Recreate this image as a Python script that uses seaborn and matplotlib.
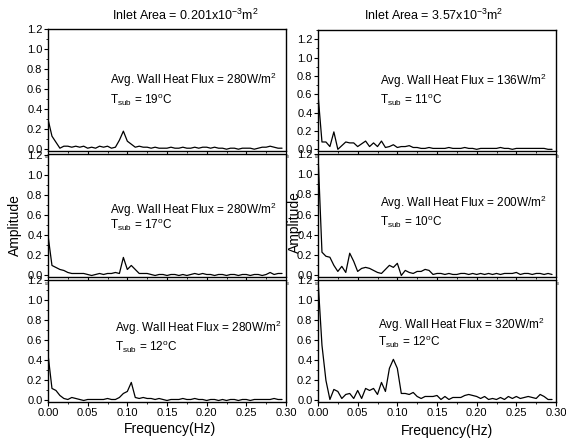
import matplotlib
matplotlib.use("Agg")
import matplotlib.pyplot as plt
import seaborn as sns
import pandas as pd
from matplotlib.ticker import MultipleLocator

# ---------------- data ----------------
freq = [0.000, 0.005, 0.010, 0.015, 0.020, 0.025, 0.030, 0.035, 0.040, 0.045,
        0.050, 0.055, 0.060, 0.065, 0.070, 0.075, 0.080, 0.085, 0.090, 0.095,
        0.100, 0.105, 0.110, 0.115, 0.120, 0.125, 0.130, 0.135, 0.140, 0.145,
        0.150, 0.155, 0.160, 0.165, 0.170, 0.175, 0.180, 0.185, 0.190, 0.195,
        0.200, 0.205, 0.210, 0.215, 0.220, 0.225, 0.230, 0.235, 0.240, 0.245,
        0.250, 0.255, 0.260, 0.265, 0.270, 0.275, 0.280, 0.285, 0.290, 0.295]

amp_280_19 = [0.30, 0.13, 0.07, 0.01, 0.03, 0.03, 0.02, 0.03, 0.02, 0.03,
              0.01, 0.02, 0.01, 0.03, 0.02, 0.03, 0.01, 0.02, 0.09, 0.18,
              0.08, 0.05, 0.02, 0.03, 0.02, 0.02, 0.01, 0.02, 0.01, 0.01,
              0.01, 0.02, 0.01, 0.01, 0.02, 0.01, 0.01, 0.02, 0.01, 0.02,
              0.02, 0.01, 0.02, 0.01, 0.01, 0.00, 0.01, 0.01, 0.00, 0.01,
              0.01, 0.01, 0.00, 0.01, 0.02, 0.02, 0.03, 0.02, 0.01, 0.01]

amp_280_17 = [0.40, 0.10, 0.08, 0.06, 0.05, 0.03, 0.02, 0.02, 0.02, 0.02,
              0.01, 0.00, 0.01, 0.02, 0.01, 0.02, 0.02, 0.03, 0.02, 0.18,
              0.06, 0.10, 0.06, 0.02, 0.02, 0.02, 0.01, 0.00, 0.01, 0.01,
              0.00, 0.01, 0.01, 0.00, 0.01, 0.00, 0.01, 0.02, 0.01, 0.02,
              0.01, 0.01, 0.00, 0.01, 0.01, 0.00, 0.01, 0.01, 0.00, 0.01,
              0.01, 0.00, 0.01, 0.01, 0.00, 0.01, 0.03, 0.01, 0.02, 0.02]

amp_280_12 = [0.46, 0.12, 0.10, 0.05, 0.02, 0.01, 0.03, 0.02, 0.01, 0.00,
              0.01, 0.01, 0.01, 0.01, 0.01, 0.02, 0.01, 0.01, 0.03, 0.07,
              0.09, 0.18, 0.03, 0.02, 0.03, 0.02, 0.02, 0.01, 0.02, 0.01,
              0.00, 0.01, 0.01, 0.01, 0.02, 0.01, 0.01, 0.02, 0.01, 0.01,
              0.00, 0.01, 0.01, 0.00, 0.01, 0.00, 0.01, 0.01, 0.00, 0.01,
              0.01, 0.00, 0.01, 0.01, 0.01, 0.01, 0.01, 0.02, 0.01, 0.01]

amp_136_11 = [0.60, 0.08, 0.08, 0.03, 0.19, 0.00, 0.04, 0.08, 0.07, 0.07,
              0.03, 0.06, 0.09, 0.03, 0.07, 0.03, 0.09, 0.02, 0.03, 0.05,
              0.02, 0.03, 0.03, 0.04, 0.02, 0.02, 0.01, 0.01, 0.02, 0.01,
              0.01, 0.01, 0.01, 0.02, 0.01, 0.01, 0.01, 0.02, 0.01, 0.01,
              0.00, 0.01, 0.01, 0.01, 0.01, 0.01, 0.02, 0.01, 0.01, 0.00,
              0.01, 0.01, 0.01, 0.01, 0.01, 0.01, 0.01, 0.01, 0.00, 0.00]

amp_200_10 = [1.20, 0.23, 0.19, 0.18, 0.10, 0.04, 0.09, 0.03, 0.22, 0.14,
              0.04, 0.07, 0.08, 0.07, 0.05, 0.03, 0.02, 0.06, 0.10, 0.08,
              0.12, 0.00, 0.05, 0.03, 0.02, 0.04, 0.04, 0.06, 0.05, 0.01,
              0.02, 0.02, 0.01, 0.02, 0.01, 0.01, 0.02, 0.02, 0.01, 0.02,
              0.01, 0.02, 0.01, 0.02, 0.01, 0.02, 0.01, 0.02, 0.02, 0.02,
              0.03, 0.01, 0.02, 0.02, 0.01, 0.02, 0.02, 0.01, 0.02, 0.01]

amp_320_12 = [1.20, 0.55, 0.20, 0.01, 0.11, 0.09, 0.02, 0.06, 0.07, 0.02,
              0.10, 0.02, 0.12, 0.10, 0.12, 0.06, 0.18, 0.09, 0.32, 0.41,
              0.32, 0.07, 0.07, 0.06, 0.08, 0.04, 0.02, 0.04, 0.04, 0.04,
              0.05, 0.01, 0.04, 0.01, 0.03, 0.03, 0.03, 0.05, 0.06, 0.05,
              0.04, 0.02, 0.04, 0.01, 0.02, 0.01, 0.03, 0.01, 0.04, 0.02,
              0.04, 0.02, 0.03, 0.04, 0.03, 0.02, 0.06, 0.04, 0.01, 0.01]

col_titles = ["Inlet Area = 0.201x10$^{-3}$m$^2$", "Inlet Area = 3.57x10$^{-3}$m$^2$"]
flux_labels = [["280", "280", "280"], ["136", "200", "320"]]
tsub_labels = [["19", "17", "12"], ["11", "10", "12"]]
series = [[amp_280_19, amp_280_17, amp_280_12], [amp_136_11, amp_200_10, amp_320_12]]
x_ticks = [0.00, 0.05, 0.10, 0.15, 0.20, 0.25, 0.30]
y_ticks = [0.0, 0.2, 0.4, 0.6, 0.8, 1.0, 1.2]

# ---------------- style ----------------
sns.set_theme(style="ticks")
plt.rcParams["font.family"] = ["Liberation Sans", "DejaVu Sans"]
plt.rcParams["mathtext.fontset"] = "custom"
plt.rcParams["mathtext.rm"] = "Liberation Sans"
plt.rcParams["mathtext.it"] = "Liberation Sans:italic"
plt.rcParams["mathtext.bf"] = "Liberation Sans:bold"
for key in ["text.color", "axes.labelcolor", "xtick.color", "ytick.color", "axes.edgecolor"]:
    plt.rcParams[key] = "black"

W, H = 566, 441
fig = plt.figure(figsize=(W / 100, H / 100), dpi=100)
fig.patch.set_facecolor("white")

# pixel boxes (x0, x1, y_top, y_bottom)
col_x = [(48, 286), (318, 556)]
row_y = [[(29, 150.7), (154, 277), (280, 402)],
         [(30, 150.7), (154, 277), (280, 402)]]
ytop = [[1.2, 1.21, 1.2], [1.3, 1.2, 1.2]]
text_pos = [[(0.26, 0.58, 0.417), (0.26, 0.545, 0.42), (0.28, 0.61, 0.45)],
            [(0.26, 0.58, 0.417), (0.26, 0.60, 0.45), (0.25, 0.63, 0.49)]]

for c in range(2):
    for r in range(3):
        x0, x1 = col_x[c]
        yt, yb = row_y[c][r]
        ax = fig.add_axes([x0 / W, 1 - yb / H, (x1 - x0) / W, (yb - yt) / H])
        df = pd.DataFrame({"Frequency": freq, "Amplitude": series[c][r]})
        sns.lineplot(data=df, x="Frequency", y="Amplitude", ax=ax,
                     color="black", linewidth=0.9)
        ax.set_xlim(0, 0.30)
        ax.set_ylim(-0.015, ytop[c][r])
        ax.set_xticks(x_ticks)
        ax.set_yticks(y_ticks)
        ax.xaxis.set_minor_locator(MultipleLocator(0.025))
        ax.yaxis.set_minor_locator(MultipleLocator(0.1))
        ax.set_yticklabels([f"{v:.1f}" for v in y_ticks])
        ax.tick_params(axis="y", which="major", labelsize=8, length=3, width=0.8, pad=1)
        ax.tick_params(axis="y", which="minor", length=1.5, width=0.6)
        ax.tick_params(axis="x", which="minor", length=1.5, width=0.6)
        ax.set_xticklabels([f"{v:.2f}" for v in x_ticks])
        if r == 2:
            ax.tick_params(axis="x", which="major", labelsize=8, length=3, width=0.8, pad=1.5)
        else:
            ax.tick_params(axis="x", which="major", labelsize=2.5, length=3, width=0.8, pad=0.3)
        for s in ax.spines.values():
            s.set_visible(True)
            s.set_linewidth(1.0)
            s.set_color("black")
        ax.set_xlabel("")
        ax.set_ylabel("")
        ax.set_facecolor("white")
        tx, ty1, ty2 = text_pos[c][r]
        ax.text(tx, ty1, f"Avg. Wall Heat Flux = {flux_labels[c][r]}W/m$^2$",
                transform=ax.transAxes, fontsize=8.5, va="center", ha="left")
        ax.text(tx, ty2, "T$_{\\mathrm{sub}}$ = " + tsub_labels[c][r] + "$^{\\mathrm{o}}$C",
                transform=ax.transAxes, fontsize=8.5, va="center", ha="left")

# column titles
fig.text(185 / W, 1 - 15 / H, col_titles[0], ha="center", va="center", fontsize=9)
fig.text(434 / W, 1 - 15 / H, col_titles[1], ha="center", va="center", fontsize=9)

# axis labels
fig.text(15 / W, 1 - 225 / H, "Amplitude", rotation=90, ha="center", va="center", fontsize=10)
fig.text(295 / W, 1 - 222 / H, "Amplitude", rotation=90, ha="center", va="center", fontsize=10)
fig.text(170 / W, 1 - 429 / H, "Frequency(Hz)", ha="center", va="center", fontsize=10)
fig.text(447 / W, 1 - 431 / H, "Frequency(Hz)", ha="center", va="center", fontsize=10)

fig.savefig("out.png", dpi=100, facecolor="white")
